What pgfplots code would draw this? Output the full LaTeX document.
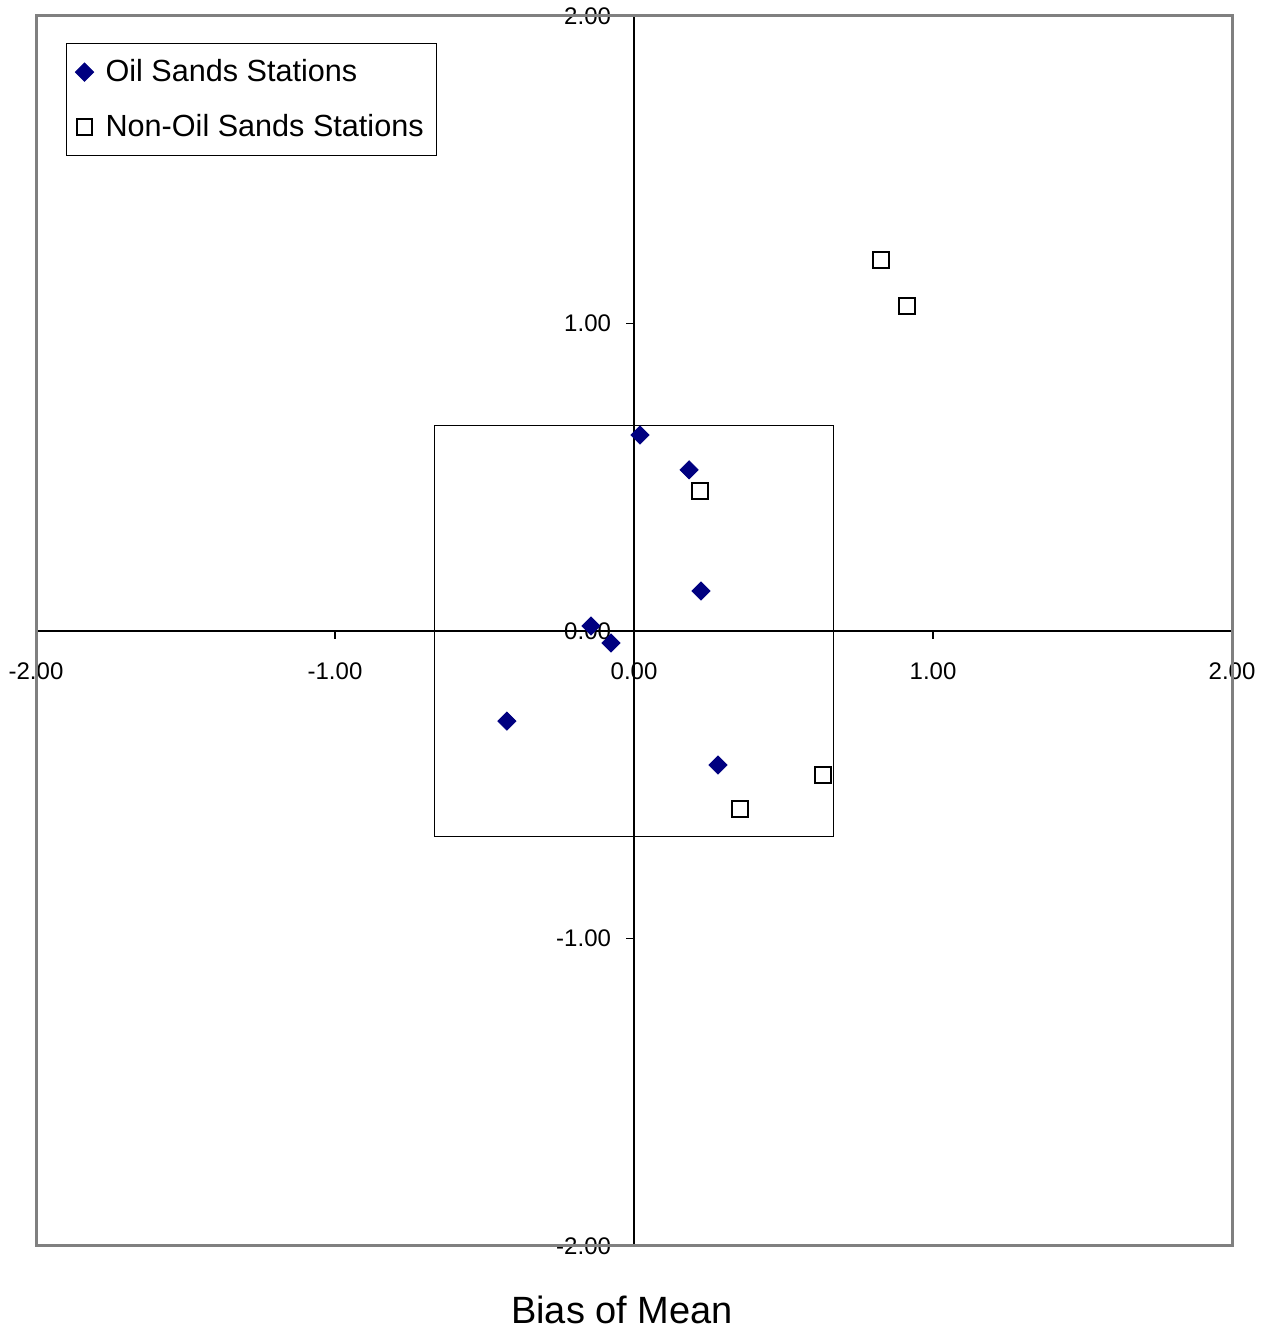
\documentclass[border=0pt]{standalone}
\usepackage{fontspec}
\setmainfont{Liberation Sans}
\usepackage{pgfplots}
\pgfplotsset{compat=1.18}

\definecolor{oilnavy}{RGB}{0,0,128}
\definecolor{framegray}{RGB}{128,128,128}

\begin{document}
\begin{tikzpicture}
\begin{axis}[
  scale only axis,
  width=598pt, height=615pt,
  xmin=-2, xmax=2, ymin=-2, ymax=2,
  axis lines*=middle,
  axis line style={black, line width=0.6pt, -},
  hide obscured x ticks=false,
  hide obscured y ticks=false,
  xtick={-2,-1,0,1,2},
  ytick={-2,-1,0,1,2},
  xticklabels={-2.00,-1.00,0.00,1.00,2.00},
  yticklabels={-2.00,-1.00,0.00,1.00,2.00},
  tick align=outside,
  major tick length=4pt,
  tick style={black, line width=0.6pt},
  ticklabel style={font=\fontsize{12}{14}\selectfont},
  xticklabel style={yshift=-8.5pt},
  yticklabel style={xshift=-4pt},
  xlabel={Bias of Mean},
  xlabel style={at={(rel axis cs:0.49,0)}, anchor=base, yshift=-38.5pt,
                font=\fontsize{19}{23}\selectfont},
  clip=false,
  legend cell align=left,
  legend style={at={(rel axis cs:0,1)}, anchor=north west,
                xshift=15pt, yshift=-13.5pt,
                draw=black, line width=0.5pt,
                font=\fontsize{15.3}{18}\selectfont,
                row sep=11pt, column sep=4pt,
                inner xsep=4.5pt, inner ysep=6pt},
]
% outer frame of the plot area
\draw[framegray, line width=1.5pt] (rel axis cs:0,0) rectangle (rel axis cs:1,1);
% inner reference box
\draw[black, line width=0.5pt] (axis cs:-0.667,-0.667) rectangle (axis cs:0.667,0.667);
\coordinate (sw) at (rel axis cs:0,0);
\coordinate (ne) at (rel axis cs:1,1);

\addplot[only marks, mark=square*, mark size=3.2pt,
         mark options={draw=oilnavy, fill=oilnavy, rotate=45}]
  coordinates {
    (0.02,0.637) (0.184,0.524) (0.224,0.130) (-0.144,0.016)
    (-0.077,-0.039) (-0.425,-0.293) (0.281,-0.436)
  };
\addlegendentry{Oil Sands Stations}

\addplot[only marks, mark=square*, mark size=3.9pt,
         mark options={draw=black, fill=white, line width=1pt}]
  coordinates {
    (0.826,1.207) (0.913,1.057) (0.221,0.455) (0.632,-0.468) (0.355,-0.579)
  };
\addlegendentry{Non-Oil Sands Stations}
\end{axis}
\pgfresetboundingbox
\path ([shift={(-18pt,-41.5pt)}]sw) rectangle ([shift={(22pt,8pt)}]ne);
\end{tikzpicture}
\end{document}
